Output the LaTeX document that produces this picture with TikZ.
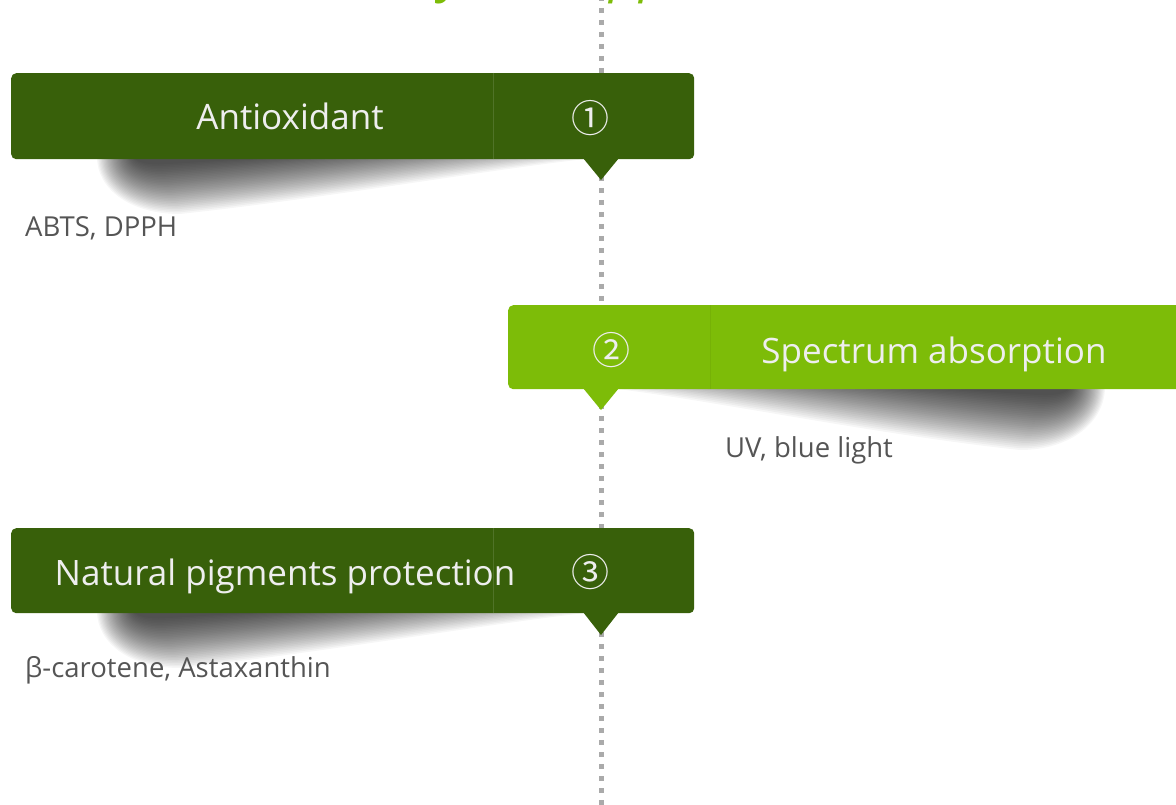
\documentclass[tikz,border=0pt]{standalone}
\usepackage{fontspec}
\setmainfont{Open Sans}
\newfontfamily\circfont{Noto Sans CJK SC}
\definecolor{darkg}{HTML}{38600A}
\definecolor{lightg}{HTML}{7DBC08}
\definecolor{txtw}{HTML}{EEEEEE}
\definecolor{txtg}{HTML}{555555}
\definecolor{dotg}{HTML}{AAAAAA}
\begin{document}
\begin{tikzpicture}[x=1pt,y=-1pt,
  banner/.style={rounded corners=5pt, inner sep=0pt, draw=none},
  label/.style={text=txtw, font=\fontsize{35}{40}\selectfont, inner sep=0pt, anchor=base},
  num/.style={text=txtw, font=\circfont\fontsize{38}{40}\selectfont, inner sep=0pt},
  note/.style={text=txtg, font=\fontsize{27.5}{32}\selectfont, anchor=base west, inner sep=0pt},
  layer/.style={fill=black, fill opacity=0.036, draw=none},
  divider/.style={line width=0.8pt}]
\useasboundingbox (0,0) rectangle (1176,805);
\clip (0,0) rectangle (1176,805);

% clipped title (only descenders visible)
\node[anchor=base west, text=lightg, font=\itshape\fontsize{52}{60}\selectfont, inner sep=0pt] (ttl) at (440,-8) {y and app};

% dotted timeline
\coordinate (ltop) at (601,-4);
\coordinate (lbot) at (601,805);
\draw[dotg, line width=5pt, dash pattern=on 5pt off 7pt] (ltop) -- (lbot);

% soft shadows (stacked translucent layers)
\foreach \i in {0,...,31}{
  \pgfmathsetmacro{\t}{1-\i*0.023}
  \pgfmathsetmacro{\s}{1-\i*0.028}
  \begin{scope}[shift={(150,157)}, xscale=\t, yscale=\s]
    \path[layer] (-53,0) .. controls (-53,32) and (-20,57) .. (30,57) .. controls (170,42) and (330,14) .. (435,2) -- (435,0) -- cycle;
  \end{scope}
  \begin{scope}[shift={(1055,387)}, xscale=\t, yscale=\s]
    \path[layer] (50,0) .. controls (50,34) and (17,63) .. (-35,63) .. controls (-175,48) and (-335,15) .. (-437,2) -- (-437,0) -- cycle;
  \end{scope}
  \begin{scope}[shift={(150,611)}, xscale=\t, yscale=\s]
    \path[layer] (-53,0) .. controls (-53,32) and (-20,57) .. (30,57) .. controls (170,42) and (330,14) .. (435,2) -- (435,0) -- cycle;
  \end{scope}
}

% box 1
\node[banner, fill=darkg, minimum width=683pt, minimum height=86pt, anchor=north west] (b1) at (11,73) {};
\fill[darkg] (583,158) -- (619,158) -- (601,180) -- cycle;
\draw[divider, darkg!88!white] (493,73) -- (493,159);
\node[label] (t1) at (290,130) {Antioxidant};
\node[num] (n1) at (590,118) {①};
\node[note] (s1) at (25,237) {ABTS, DPPH};

% box 2
\node[banner, fill=lightg, minimum width=720pt, minimum height=84pt, anchor=north west] (b2) at (508,305) {};
\fill[lightg] (583,388) -- (619,388) -- (601,410) -- cycle;
\draw[divider, lightg!94!black] (710,305) -- (710,389);
\node[label] (t2) at (934,363) {Spectrum absorption};
\node[num] (n2) at (611,350) {②};
\node[note] (s2) at (725,457) {UV, blue light};

% box 3
\node[banner, fill=darkg, minimum width=683pt, minimum height=85pt, anchor=north west] (b3) at (11,528) {};
\fill[darkg] (583,612) -- (619,612) -- (601,635) -- cycle;
\draw[divider, darkg!88!white] (493,528) -- (493,613);
\node[label] (t3) at (285,585) {Natural pigments protection};
\node[num] (n3) at (590,572) {③};
\node[note] (s3) at (25,677) {β-carotene, Astaxanthin};
\end{tikzpicture}
\end{document}
